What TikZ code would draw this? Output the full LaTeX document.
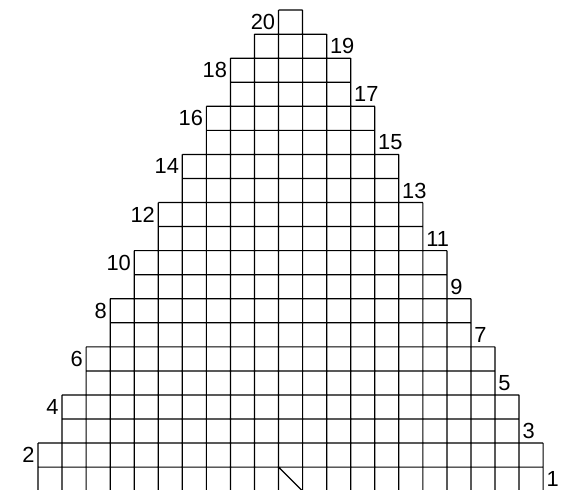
\documentclass[tikz,border=0pt]{standalone}
\usepackage{fontspec}
\setmainfont{Liberation Sans}

\begin{document}
\begin{tikzpicture}[scale=0.6,line width=0.3mm,
  numl/.style={anchor=east,inner sep=2pt,font=\fontsize{15.5}{18}\selectfont},
  numr/.style={anchor=west,inner sep=2pt,font=\fontsize{15.5}{18}\selectfont}]

\clip (-1.58,0.06) rectangle (21.95,20.42);


\draw (0,0) grid (21,2) %rows 1,2
      (1,2) grid (20,4) %rows 3,4
      (2,4) grid (19,6) %rows 5,6
      (3,6) grid (18,8) %rows 7,8
      (4,8) grid (17,10) %rows 9,10
      (5,10) grid (16,12) %rows 11,12
      (6,12) grid (15,14) %rows 13,14
      (7,14) grid (14,16) %rows 15,16
      (8,16) grid (13,18) %rows 17,18
      (9,18) grid (12,19) %row 19
      (10,19) grid (11,20) %row 20
      (10,1) -- (11,0); %slash


\node[numr] (n1) at (21,0.5) {1};
\node[numl] (n2) at (0,1.5) {2};
\node[numr] (n3) at (20,2.5) {3};
\node[numl] (n4) at (1,3.5) {4};
\node[numr] (n5) at (19,4.5) {5};
\node[numl] (n6) at (2,5.5) {6};
\node[numr] (n7) at (18,6.5) {7};
\node[numl] (n8) at (3,7.5) {8};
\node[numr] (n9) at (17,8.5) {9};
\node[numl] (n10) at (4,9.5) {10};
\node[numr] (n11) at (16,10.5) {11};
\node[numl] (n12) at (5,11.5) {12};
\node[numr] (n13) at (15,12.5) {13};
\node[numl] (n14) at (6,13.5) {14};
\node[numr] (n15) at (14,14.5) {15};
\node[numl] (n16) at (7,15.5) {16};
\node[numr] (n17) at (13,16.5) {17};
\node[numl] (n18) at (8,17.5) {18};
\node[numr] (n19) at (12,18.5) {19};
\node[numl] (n20) at (10,19.5) {20};

\end{tikzpicture}
\end{document}
